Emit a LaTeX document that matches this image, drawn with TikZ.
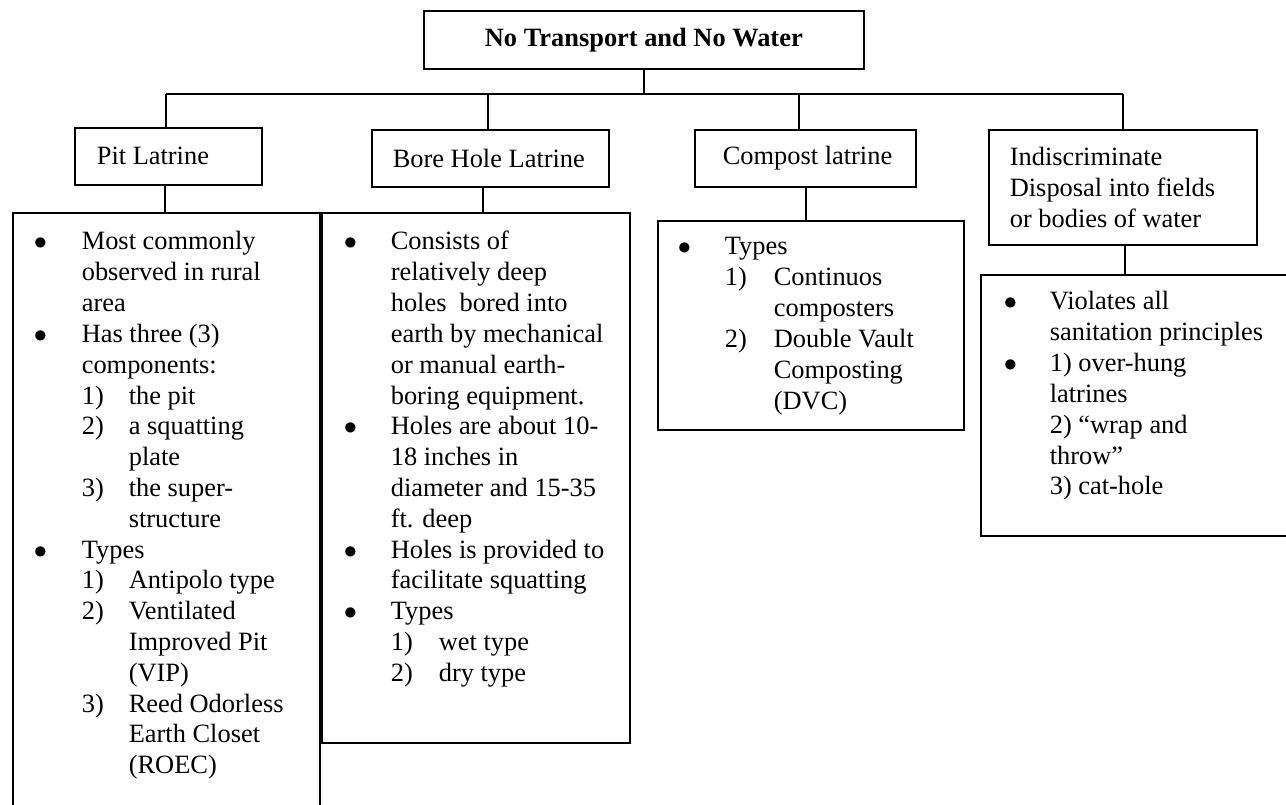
\documentclass[tikz,border=0pt]{standalone}
\usepackage{fontspec}
\setmainfont{Liberation Serif}
\usepackage{array}
\newcommand{\px}[1]{\dimexpr0.4545pt*#1\relax}
\newcommand{\upx}{0.4545pt}
\newcommand{\lst}[3]{\begin{tabular}[t]{@{}w{l}{\px{#1}}@{}w{l}{\px{#2}}@{}l@{}}#3\end{tabular}}
\newcommand{\mc}[1]{\multicolumn{2}{@{}l@{}}{#1}}
\newcommand{\bu}{$\bullet$}
% left padded label: #1 left pad (px), #2 remaining width (px), #3 text
\newcommand{\lbox}[3]{\hspace*{\px{#1}}\parbox[c]{\px{#2}}{\raggedright #3}}
\begin{document}
\begin{tikzpicture}[x=\upx, y=-\upx, line width=0.75pt,
  box/.style={draw, rectangle, anchor=north west, inner sep=0pt},
  tbox/.style={box, font=\fontsize{12pt}{14pt}\selectfont},
  txt/.style={anchor=base west, inner sep=0pt, font=\fontsize{12pt}{14pt}\selectfont}]
\path[use as bounding box, fill=white] (0,0) rectangle (1286,805);
\clip (0,0) rectangle (1286,805);

% header and category boxes
\node[box, minimum width=440*\upx, minimum height=58*\upx,
      font=\bfseries\fontsize{12pt}{14pt}\selectfont] (top) at (423,10) {No Transport and No Water};
\node[tbox, minimum height=57*\upx] (pit) at (74,127) {\lbox{22}{165}{Pit Latrine}};
\node[tbox, minimum height=57*\upx] (bore) at (371,129) {\lbox{21}{216}{Bore Hole Latrine}};
\node[tbox, minimum height=57*\upx] (comp) at (694,129) {\lbox{28}{193}{Compost latrine}};
\node[tbox, minimum height=115*\upx] (ind) at (988,129) {\lbox{21}{247}{Indiscriminate\\Disposal into fields\\or bodies of water}};

% detail boxes
\node[box, minimum width=307*\upx, minimum height=620*\upx] (pitD) at (12,212) {};
\node[box, minimum width=308*\upx, minimum height=530*\upx] (boreD) at (321,212) {};
\node[box, minimum width=306*\upx, minimum height=209*\upx] (compD) at (657,220) {};
\node[box, minimum width=330*\upx, minimum height=261*\upx] (indD) at (980,274) {};

% detail texts
\node[txt] (pitT) at (33,250) {\lst{48}{47}{%
\bu & \mc{Most commonly}\\
 & \mc{observed in rural}\\
 & \mc{area}\\
\bu & \mc{Has three (3)}\\
 & \mc{components:}\\
 & 1) & the pit\\
 & 2) & a squatting\\
 & & plate\\
 & 3) & the super-\\
 & & structure\\
\bu & \mc{Types}\\
 & 1) & Antipolo type\\
 & 2) & Ventilated\\
 & & Improved Pit\\
 & & (VIP)\\
 & 3) & Reed Odorless\\
 & & Earth Closet\\
 & & (ROEC)}};

\node[txt] (boreT) at (343,250) {\lst{47}{48}{%
\bu & \mc{Consists of}\\
 & \mc{relatively deep}\\
 & \mc{holes\ \ bored into}\\
 & \mc{earth by mechanical}\\
 & \mc{or manual earth-}\\
 & \mc{boring equipment.}\\
\bu & \mc{Holes are about 10-}\\
 & \mc{18 inches in}\\
 & \mc{diameter and 15-35}\\
 & \mc{ft. deep}\\
\bu & \mc{Holes is provided to}\\
 & \mc{facilitate squatting}\\
\bu & \mc{Types}\\
 & 1) & wet type\\
 & 2) & dry type}};

\node[txt] (compT) at (677,255) {\lst{47}{49}{%
\bu & \mc{Types}\\
 & 1) & Continuos\\
 & & composters\\
 & 2) & Double Vault\\
 & & Composting\\
 & & (DVC)}};

\node[txt] (indT) at (1003,310) {\lst{46}{0}{%
\bu & \mc{Violates all}\\
 & \mc{sanitation principles}\\
\bu & \mc{1) over-hung}\\
 & \mc{latrines}\\
 & \mc{2) “wrap and}\\
 & \mc{throw”}\\
 & \mc{3) cat-hole}}};

% connector x positions
\coordinate (busy) at (0,94);
\coordinate (xt) at (644,0);
\coordinate (x1) at (166,0);
\coordinate (x2) at (488,0);
\coordinate (x3) at (799,0);
\coordinate (x4) at (1123,0);
\coordinate (d1) at (165,0);
\coordinate (d2) at (483,0);
\coordinate (d3) at (806,0);
\coordinate (d4) at (1125,0);

\draw (top.south -| xt) -- (busy -| xt);
\draw (busy -| x1) -- (busy -| x4);
\draw (busy -| x1) -- (pit.north -| x1);
\draw (busy -| x2) -- (bore.north -| x2);
\draw (busy -| x3) -- (comp.north -| x3);
\draw (busy -| x4) -- (ind.north -| x4);
\draw (pit.south -| d1) -- (pitD.north -| d1);
\draw (bore.south -| d2) -- (boreD.north -| d2);
\draw (comp.south -| d3) -- (compD.north -| d3);
\draw (ind.south -| d4) -- (indD.north -| d4);
\end{tikzpicture}
\end{document}
